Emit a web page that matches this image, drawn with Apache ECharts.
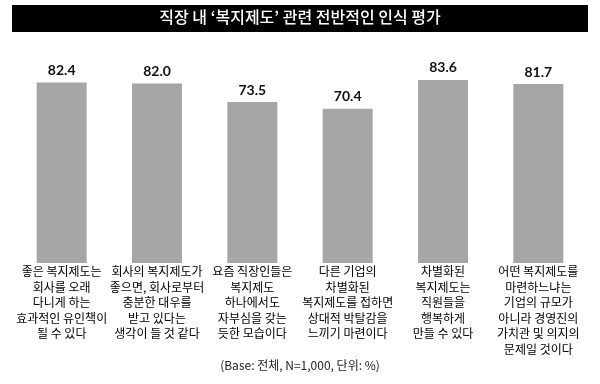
<!DOCTYPE html>
<html><head><meta charset="utf-8">
<script src="https://cdn.jsdelivr.net/npm/echarts@6/dist/echarts.min.js"></script>
<style>html,body{margin:0;padding:0;background:#fff}#c{width:600px;height:384px}</style>
</head><body><div id="c"></div>
<script>
var titleText = "직장 내 ‘복지제도’ 관련 전반적인 인식 평가";
var footnote = "(Base: 전체, N=1,000, 단위: %)";
var categories = [
  "좋은 복지제도는\n회사를 오래\n다니게 하는\n효과적인 유인책이\n될 수 있다",
  "회사의 복지제도가\n좋으면, 회사로부터\n충분한 대우를\n받고 있다는\n생각이 들 것 같다",
  "요즘 직장인들은\n복지제도\n하나에서도\n자부심을 갖는\n듯한 모습이다",
  "다른 기업의\n차별화된\n복지제도를 접하면\n상대적 박탈감을\n느끼기 마련이다",
  "차별화된\n복지제도는\n직원들을\n행복하게\n만들 수 있다",
  "어떤 복지제도를\n마련하느냐는\n기업의 규모가\n아니라 경영진의\n가치관 및 의지의\n문제일 것이다"
];
var values = [82.4, 82.0, 73.5, 70.4, 83.6, 81.7];

var chart = echarts.init(document.getElementById('c'));
chart.setOption({
  animation: false,
  graphic: [
    {type:'rect', left:12, top:5, shape:{width:576, height:27}, style:{fill:'#000'}},
    {type:'text', left:'center', top:9, style:{text:titleText, fill:'#fff', font:'500 16px "Noto Sans CJK KR"'}},
    {type:'text', left:'center', top:359, style:{text:footnote, fill:'#222', font:'12px "Noto Sans CJK KR"'}}
  ],
  grid: {left:14, right:14, top:44, bottom:121, containLabel:false},
  xAxis: {
    type:'category', data:categories,
    axisLine:{show:false}, axisTick:{show:false},
    axisLabel:{interval:0, margin:1, fontSize:12, lineHeight:15.5, color:'#000', fontFamily:'"Noto Sans CJK KR"', align:'center', verticalAlign:'top'}
  },
  yAxis: {type:'value', min:0, max:100, show:false, splitLine:{show:false}},
  series: [{
    type:'bar', data:values, barWidth:50,
    itemStyle:{color:'#a6a6a6'},
    label:{show:true, position:'top', distance:5, formatter:function(p){return p.value.toFixed(1);}, fontSize:14, fontWeight:'bold', color:'#111', fontFamily:'Lato'}
  }]
});
</script></body></html>
